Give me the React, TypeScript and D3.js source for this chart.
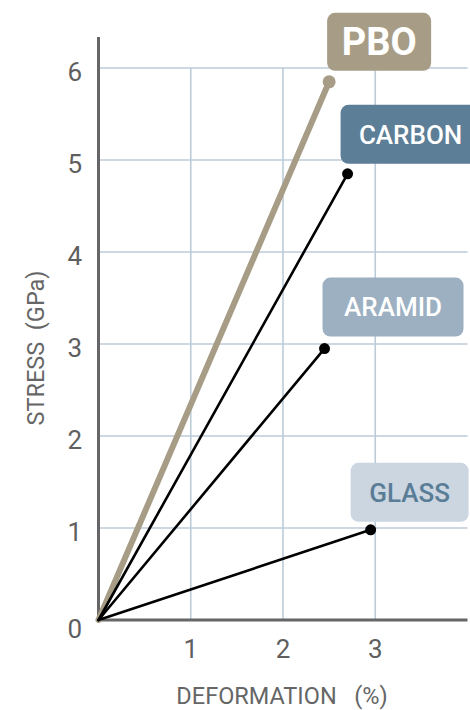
import React from 'react'
import * as d3 from 'd3'

// fibres: strain at break (%) and tensile strength (GPa)
const fibres = ['PBO', 'CARBON', 'ARAMID', 'GLASS']
const strain = [2.5, 2.7, 2.45, 2.95]
const stress = [5.85, 4.85, 2.95, 0.98]
const xTicks = [1, 2, 3]
const yTicks = [0, 1, 2, 3, 4, 5, 6]

// label boxes: offset from the end point, fill, text colour, font
const boxStyle = [
  { dx: -2, dy: -69, w: 104, h: 58, fill: '#a79d86', color: '#fff', size: 38, weight: 700 },
  { dx: -7, dy: -69, w: 140, h: 59, fill: '#5c7e97', color: '#fff', size: 26, weight: 500 },
  { dx: -2, dy: -71, w: 141, h: 59, fill: '#9cb0c2', color: '#fff', size: 26, weight: 500 },
  { dx: -20, dy: -67, w: 118, h: 59, fill: '#cbd6e0', color: '#5a7d97', size: 26, weight: 500 },
]

const W = 470
const H = 710
const x = d3.scaleLinear().domain([0, 4]).range([98.5, 467.5])
const y = d3.scaleLinear().domain([0, 6]).range([620, 68])
const yTop = 37

const font = 'Roboto, sans-serif'
const axisColor = '#666666'
const gridColor = '#bccbd8'

export default function App() {
  const line = d3.line<[number, number]>().x(d => x(d[0])).y(d => y(d[1]))
  return (
    <svg width={W} height={H} style={{ position: 'absolute', left: 0, top: 0, background: '#fff' }} fontFamily={font}>
      {/* grid */}
      {yTicks.filter(t => t > 0).map(t => (
        <line key={'gy' + t} x1={x(0)} x2={x(4)} y1={y(t)} y2={y(t)} stroke={gridColor} strokeWidth={1.6} />
      ))}
      {xTicks.map(t => (
        <line key={'gx' + t} x1={x(t)} x2={x(t)} y1={y(6)} y2={y(0)} stroke={gridColor} strokeWidth={1.6} />
      ))}

      {/* axes */}
      <line x1={x(0)} x2={x(0)} y1={yTop} y2={y(0) + 1.5} stroke={axisColor} strokeWidth={3} />
      <line x1={x(0) - 1.5} x2={x(4)} y1={y(0)} y2={y(0)} stroke={axisColor} strokeWidth={3} />

      {yTicks.map(t => (
        <text key={'ty' + t} x={82} y={y(t) + (t === 0 ? 17.5 : 13)} textAnchor="end" fontSize={26} fill="#5f5f5f">{t}</text>
      ))}
      {xTicks.map(t => (
        <text key={'tx' + t} x={x(t)} y={658} textAnchor="middle" fontSize={26} fill="#5f5f5f">{t}</text>
      ))}

      <text transform={`translate(44,${348}) rotate(-90)`} textAnchor="middle" fontSize={23.5} fill="#666">
        STRESS&#160;&#160;(GPa)
      </text>
      <text x={282} y={704} textAnchor="middle" fontSize={23.5} fill="#666">
        DEFORMATION&#160;&#160;&#160;(%)
      </text>

      {/* lines */}
      {fibres.map((f, i) => {
        const pbo = i === 0
        return (
          <g key={f}>
            <path
              d={line([[0, 0], [strain[i], stress[i]]]) || ''}
              fill="none"
              stroke={pbo ? '#a79d86' : '#000'}
              strokeWidth={pbo ? 6 : 2.6}
              strokeLinecap="round"
            />
            <circle cx={x(strain[i])} cy={y(stress[i])} r={pbo ? 6.5 : 5.5} fill={pbo ? '#a79d86' : '#000'} />
          </g>
        )
      })}

      {/* labels */}
      {fibres.map((f, i) => {
        const s = boxStyle[i]
        const bx = x(strain[i]) + s.dx
        const by = y(stress[i]) + s.dy
        return (
          <g key={'l' + f}>
            <rect x={bx} y={by} width={s.w} height={s.h} rx={8} fill={s.fill} />
            <text
              x={bx + s.w / 2}
              y={by + s.h / 2 + s.size * 0.36}
              textAnchor="middle"
              fontSize={s.size}
              fontWeight={s.weight}
              fill={s.color}
            >
              {f}
            </text>
          </g>
        )
      })}
    </svg>
  )
}
